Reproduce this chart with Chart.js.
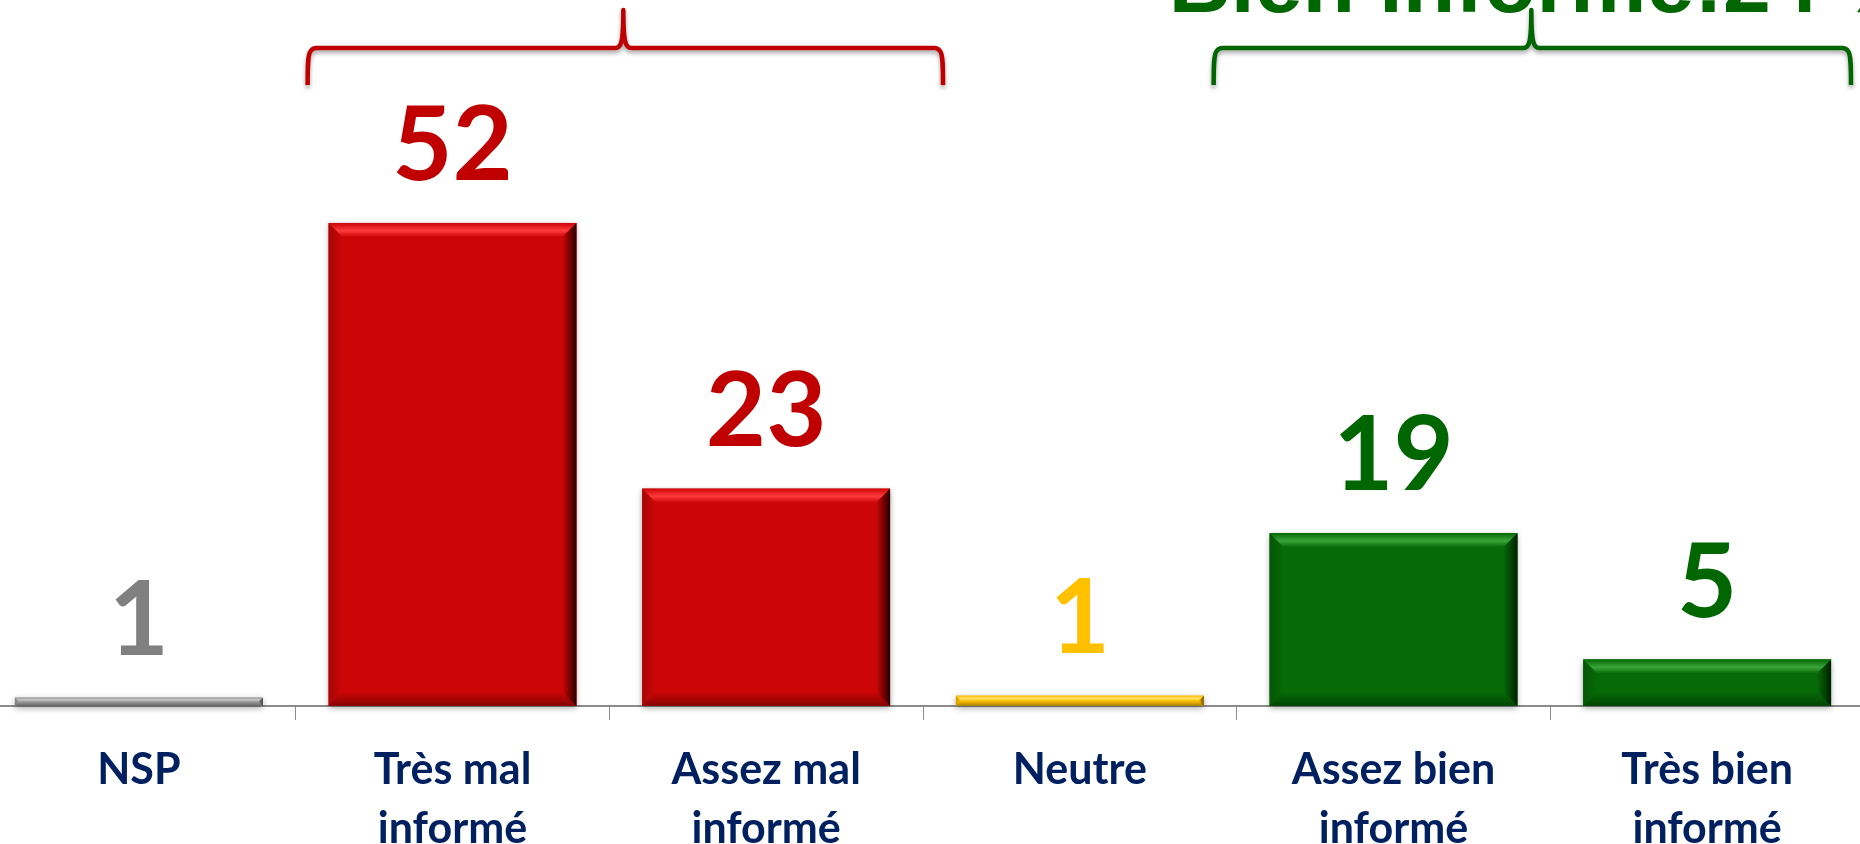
<!DOCTYPE html>
<html>
<head>
<meta charset="utf-8">
<script src="https://cdn.jsdelivr.net/npm/chart.js@4.4.1/dist/chart.umd.min.js"></script>
<style>
  html, body { margin: 0; padding: 0; background: #fff; overflow: hidden; }
  body { width: 1860px; height: 844px; position: relative; }
  #wrap { position: absolute; left: -18px; top: 0; width: 1882px; height: 844px; }
</style>
</head>
<body>
<div id="wrap"><canvas id="infoChart"></canvas></div>
<script>
// categories and values
const categories = [
    ['NSP'],
    ['Très mal', 'informé'],
    ['Assez mal', 'informé'],
    ['Neutre'],
    ['Assez bien', 'informé'],
    ['Très bien', 'informé']
];
// hauteurs (les étiquettes sont arrondies)
const values = [0.9, 52, 23.4, 1.1, 18.6, 5];
const valueLabels = ['1', '52', '23', '1', '19', '5'];
const groupTitles = ['Mal informé:75 %', 'Bien informé:24 %'];

// couleurs des barres: base, reflet, ombre
const barColors = ['#9a9a9a', '#cc0606', '#cc0606', '#ffc000', '#066a06', '#066a06'];
const lightColors = ['#c8c8c8', '#ff3a3a', '#ff3a3a', '#ffe070', '#3aa53a', '#3aa53a'];
const darkColors = ['#3a3a3a', '#2a0000', '#2a0000', '#6a5000', '#002000', '#002000'];
const labelColors = ['#808080', '#c00000', '#c00000', '#ffc000', '#006600', '#006600'];

function bevelBar(ctx, x0, y0, x1, y1, i) {
    const base = barColors[i], light = lightColors[i], dark = darkColors[i];
    const h = y1 - y0, w = x1 - x0;
    const b = Math.min(14, h / 2, w / 2);

    ctx.save();
    ctx.shadowColor = 'rgba(0,0,0,0.35)';
    ctx.shadowBlur = 6;
    ctx.shadowOffsetY = 2;
    ctx.fillStyle = base;
    ctx.fillRect(x0, y0, w, h);
    ctx.restore();

    ctx.save();
    // haut
    let g = ctx.createLinearGradient(0, y0, 0, y0 + b);
    g.addColorStop(0, base);
    g.addColorStop(0.55, light);
    g.addColorStop(1, base);
    ctx.fillStyle = g;
    ctx.beginPath();
    ctx.moveTo(x0, y0); ctx.lineTo(x1, y0); ctx.lineTo(x1 - b, y0 + b); ctx.lineTo(x0 + b, y0 + b);
    ctx.closePath(); ctx.fill();
    // gauche
    g = ctx.createLinearGradient(x0, 0, x0 + b, 0);
    g.addColorStop(0, 'rgba(0,0,0,0.18)');
    g.addColorStop(1, 'rgba(0,0,0,0)');
    ctx.fillStyle = g;
    ctx.beginPath();
    ctx.moveTo(x0, y0); ctx.lineTo(x0 + b, y0 + b); ctx.lineTo(x0 + b, y1 - b); ctx.lineTo(x0, y1);
    ctx.closePath(); ctx.fill();
    // droite
    g = ctx.createLinearGradient(x1 - b, 0, x1, 0);
    g.addColorStop(0, base);
    g.addColorStop(1, dark);
    ctx.fillStyle = g;
    ctx.beginPath();
    ctx.moveTo(x1, y0); ctx.lineTo(x1, y1); ctx.lineTo(x1 - b, y1 - b); ctx.lineTo(x1 - b, y0 + b);
    ctx.closePath(); ctx.fill();
    // bas
    g = ctx.createLinearGradient(0, y1 - b, 0, y1);
    g.addColorStop(0, 'rgba(0,0,0,0)');
    g.addColorStop(1, 'rgba(0,0,0,0.35)');
    ctx.fillStyle = g;
    ctx.beginPath();
    ctx.moveTo(x0, y1); ctx.lineTo(x0 + b, y1 - b); ctx.lineTo(x1 - b, y1 - b); ctx.lineTo(x1, y1);
    ctx.closePath(); ctx.fill();
    ctx.restore();
}

function drawBrace(ctx, xl, xr, xc, color) {
    const yTop = 10, yLine = 48, yEnd = 85, r = 9;
    ctx.save();
    ctx.strokeStyle = color;
    ctx.lineWidth = 4.5;
    ctx.lineJoin = 'round';
    ctx.shadowColor = 'rgba(0,0,0,0.35)';
    ctx.shadowBlur = 4;
    ctx.shadowOffsetY = 3;
    ctx.beginPath();
    ctx.moveTo(xl, yEnd);
    ctx.bezierCurveTo(xl, yLine + 20, xl, yLine + 6, xl + 3, yLine + 3);
    ctx.quadraticCurveTo(xl + 5, yLine, xl + r, yLine);
    ctx.lineTo(xc - 8, yLine);
    ctx.bezierCurveTo(xc - 2, yLine, xc, yLine - 6, xc, yTop);
    ctx.bezierCurveTo(xc, yLine - 6, xc + 2, yLine, xc + 8, yLine);
    ctx.lineTo(xr - r, yLine);
    ctx.quadraticCurveTo(xr - 5, yLine, xr - 3, yLine + 3);
    ctx.bezierCurveTo(xr, yLine + 6, xr, yLine + 20, xr, yEnd);
    ctx.stroke();
    ctx.restore();
}

const decorPlugin = {
    id: 'decor',
    afterDatasetsDraw(chart) {
        const ctx = chart.ctx;
        const meta = chart.getDatasetMeta(0);
        meta.data.forEach((bar, i) => {
            const x0 = bar.x - bar.width / 2, x1 = bar.x + bar.width / 2;
            bevelBar(ctx, x0, bar.y, x1, bar.base, i);
            ctx.save();
            ctx.font = 'bold 104px Lato';
            ctx.fillStyle = labelColors[i];
            ctx.textAlign = 'center';
            ctx.textBaseline = 'alphabetic';
            ctx.fillText(valueLabels[i], bar.x, bar.y - 43);
            ctx.restore();
        });

        // accolades au-dessus des groupes
        const xs = chart.scales.x;
        const cw = xs.getPixelForValue(1) - xs.getPixelForValue(0);
        const left = (k) => xs.getPixelForValue(k) - cw / 2;
        const right = (k) => xs.getPixelForValue(k) + cw / 2;
        drawBrace(ctx, left(1) + 12, right(2) + 20, right(1) + 14, '#c00000');
        drawBrace(ctx, left(4) - 23, right(5) - 13, right(4) - 19, '#006600');

        ctx.save();
        ctx.font = 'bold 86px "Liberation Sans"';
        ctx.fillStyle = '#006600';
        ctx.textAlign = 'left';
        ctx.textBaseline = 'alphabetic';
        ctx.fillText(groupTitles[1], left(4) - 68, 12);
        ctx.restore();
    }
};

const ctxBar = document.getElementById('infoChart');
new Chart(ctxBar, {
    type: 'bar',
    data: {
        labels: categories,
        datasets: [{
            data: values,
            backgroundColor: barColors,
            borderWidth: 0,
            categoryPercentage: 1,
            barPercentage: 0.79
        }]
    },
    options: {
        responsive: true,
        maintainAspectRatio: false,
        animation: false,
        layout: { padding: 0 },
        scales: {
            y: { display: false, min: 0, max: 76 },
            x: {
                afterFit: (s) => { s.height = 138; },
                grid: {
                    display: true,
                    drawOnChartArea: false,
                    drawTicks: true,
                    tickLength: 14,
                    color: '#8c8c8c',
                    lineWidth: 1
                },
                border: { display: true, color: '#8c8c8c', width: 2 },
                ticks: {
                    color: '#002060',
                    padding: 20,
                    maxRotation: 0,
                    autoSkip: false,
                    font: { family: 'Lato', weight: 'bold', size: 43, lineHeight: 1.38 }
                }
            }
        },
        plugins: { legend: { display: false }, tooltip: { enabled: false } }
    },
    plugins: [decorPlugin]
});
</script>
</body>
</html>
